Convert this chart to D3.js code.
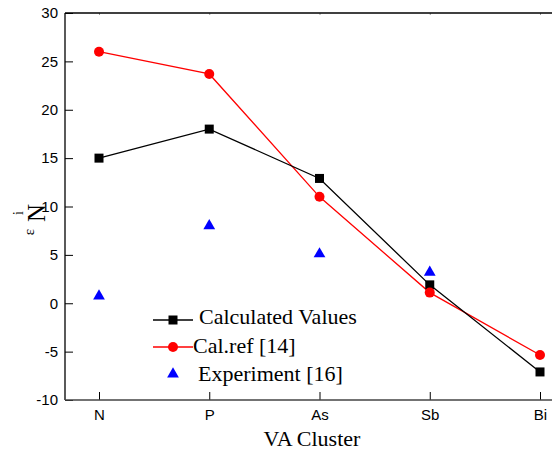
<!DOCTYPE html>
<html>
<head>
<meta charset="utf-8">
<script src="https://cdn.jsdelivr.net/npm/d3@7"></script>
<style>
  html, body { margin: 0; padding: 0; background: #fff; }
  svg { display: block; }
</style>
</head>
<body>
<svg id="chart" width="552" height="452"></svg>
<script>
const categories = ["N", "P", "As", "Sb", "Bi"];
const calculated = [15, 18, 12.9, 1.9, -7.1];
const calRef = [26, 23.7, 11, 1.1, -5.35];
const experiment = [0.85, 8.1, 5.2, 3.3, null];
const yTicks = [-10, -5, 0, 5, 10, 15, 20, 25, 30];
const legendLabels = ["Calculated Values", "Cal.ref [14]", "Experiment [16]"];

const SERIF = "'Liberation Serif', 'Times New Roman', Times, serif";
const SANS = "'Liberation Sans', Arial, Helvetica, sans-serif";

const svg = d3.select("#chart");
const plotLeft = 65, plotRight = 552, plotTop = 13, plotBottom = 400;

const x = d3.scalePoint().domain(categories).range([99, 540]);
const y = d3.scaleLinear().domain([-10, 30]).range([plotBottom, plotTop]);

// axes
const yAxis = d3.axisLeft(y).tickValues(yTicks).tickSize(-8).tickPadding(7).tickFormat(d => String(d));
const gy = svg.append("g").attr("transform", `translate(${plotLeft},0)`).call(yAxis);
gy.select(".domain").remove();
gy.append("line").attr("x1", 0).attr("x2", 0).attr("y1", plotTop).attr("y2", plotBottom).attr("stroke", "#000").attr("stroke-width", 1.3);

const xAxis = d3.axisBottom(x).tickSize(-8).tickPadding(9);
const gx = svg.append("g").attr("transform", `translate(0,${plotBottom})`).call(xAxis);
gx.select(".domain").remove();
gx.append("line").attr("x1", plotLeft).attr("x2", plotRight).attr("y1", 0).attr("y2", 0).attr("stroke", "#444").attr("stroke-width", 1.3);

const xTop = d3.axisTop(x).tickSize(-2).tickFormat("");
const gt = svg.append("g").attr("transform", `translate(0,${plotTop})`).call(xTop);
gt.select(".domain").remove();
gt.selectAll(".tick line").attr("stroke", "#999");
gt.append("line").attr("x1", plotLeft).attr("x2", plotRight).attr("y1", 0).attr("y2", 0).attr("stroke", "#000").attr("stroke-width", 1.3);

[gx, gy].forEach(g => g.attr("font-family", SANS).attr("font-size", 15));
svg.selectAll(".tick text").style("font-family", SANS).attr("fill", "#000");

// lines
const line = d3.line().x((d, i) => x(categories[i])).y(d => y(d));
svg.append("path").datum(calRef).attr("d", line).attr("fill", "none").attr("stroke", "#f00").attr("stroke-width", 1.3);
svg.append("path").datum(calculated).attr("d", line).attr("fill", "none").attr("stroke", "#000").attr("stroke-width", 1.3);

// markers
svg.selectAll(".sq").data(calculated).enter().append("rect")
  .attr("x", (d, i) => x(categories[i]) - 4.5).attr("y", d => y(d) - 4.5)
  .attr("width", 9).attr("height", 9).attr("fill", "#000");
svg.selectAll(".ci").data(calRef).enter().append("circle")
  .attr("cx", (d, i) => x(categories[i])).attr("cy", d => y(d)).attr("r", 5).attr("fill", "#f00");
const tri = d3.symbol().type(d3.symbolTriangle).size(60);
svg.selectAll(".tr").data(experiment.map((v, i) => ({v, c: categories[i]})).filter(d => d.v !== null)).enter().append("path")
  .attr("d", tri).attr("transform", d => `translate(${x(d.c)},${y(d.v) + 1})`).attr("fill", "#00f");

// legend
const lg = svg.append("g").style("font-family", SERIF);
const rowsY = [320, 347, 374];
const baseY = [324, 353, 381];
lg.append("line").attr("x1", 153).attr("x2", 193).attr("y1", rowsY[0]).attr("y2", rowsY[0]).attr("stroke", "#000").attr("stroke-width", 1.3);
lg.append("rect").attr("x", 168.5).attr("y", rowsY[0] - 4.5).attr("width", 9).attr("height", 9).attr("fill", "#000");
lg.append("line").attr("x1", 153).attr("x2", 193).attr("y1", rowsY[1]).attr("y2", rowsY[1]).attr("stroke", "#f00").attr("stroke-width", 1.3);
lg.append("circle").attr("cx", 173).attr("cy", rowsY[1]).attr("r", 5).attr("fill", "#f00");
lg.append("path").attr("d", tri).attr("transform", `translate(173,${rowsY[2]})`).attr("fill", "#00f");
const textX = [199, 193, 198];
lg.selectAll("text").data(legendLabels).enter().append("text")
  .style("font-family", SERIF)
  .attr("x", (d, i) => textX[i]).attr("y", (d, i) => baseY[i])
  .style("font-size", "22px").attr("fill", "#000").text(d => d);

// axis titles
svg.append("text").style("font-family", SERIF).attr("x", 312).attr("y", 446).attr("text-anchor", "middle")
  .style("font-size", "22px").attr("fill", "#000").text("VA Cluster");

const yl = svg.append("g").attr("transform", "translate(45,215) rotate(-90)").style("font-family", SERIF);
yl.append("text").attr("x", -17).attr("y", -11).attr("text-anchor", "middle")
  .style("font-size", "15px").text("ε");
yl.append("text").attr("x", 2).attr("y", 0).attr("text-anchor", "middle")
  .style("font-size", "25px").text("N");
yl.append("text").attr("x", 2).attr("y", -22).attr("text-anchor", "middle")
  .style("font-size", "14px").text("i");
</script>
</body>
</html>
